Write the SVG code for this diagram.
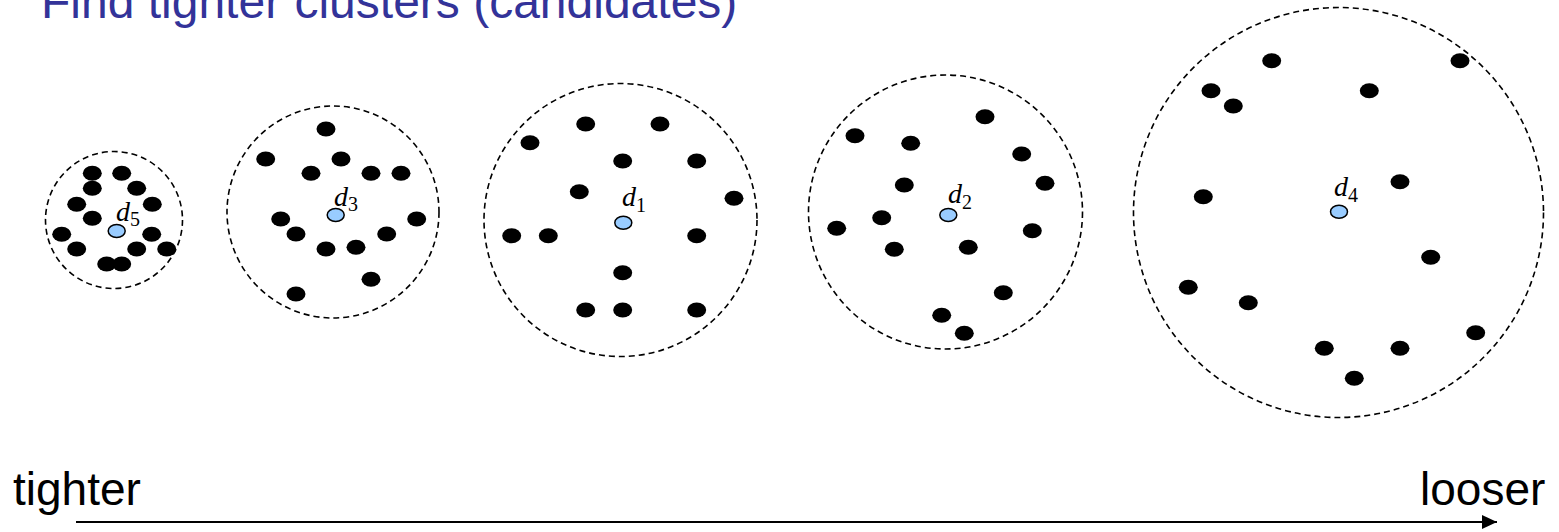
<svg xmlns="http://www.w3.org/2000/svg" width="1559" height="532" viewBox="0 0 1559 532">
<defs>
<style>
.title{font-family:"Liberation Sans",Arial,sans-serif;font-size:48px;fill:#333399}
.axis{font-family:"Liberation Sans",Arial,sans-serif;font-size:46px;fill:#000}
.ring{fill:none;stroke:#000;stroke-width:1.6;stroke-dasharray:6 4}
.pt{fill:#000}
.ctr{fill:#99CCFF;stroke:#000;stroke-width:1.5}
.lbl{font-family:"Liberation Serif","Times New Roman",serif;font-style:italic;font-size:28px;fill:#000}
.sub{font-style:normal;font-size:20px}
</style>
<marker id="arr" viewBox="0 0 15 14" refX="15" refY="7" markerWidth="15" markerHeight="14" markerUnits="userSpaceOnUse" orient="auto">
<path d="M0,0 L15,7 L0,14 Z" fill="#000"/>
</marker>
</defs>
<rect width="1559" height="532" fill="#fff"/>
<text class="title" x="41" y="18">Find tighter clusters (candidates)</text>

<g id="cluster-d5">
<circle class="ring" cx="114" cy="220" r="68.5"/>
<g class="pt">
<ellipse cx="92.3" cy="173.3" rx="9.5" ry="7.5"/>
<ellipse cx="121.7" cy="173.3" rx="9.5" ry="7.5"/>
<ellipse cx="92.3" cy="188.3" rx="9.5" ry="7.5"/>
<ellipse cx="136.7" cy="188.3" rx="9.5" ry="7.5"/>
<ellipse cx="76.7" cy="204.3" rx="9.5" ry="7.5"/>
<ellipse cx="152.3" cy="204.3" rx="9.5" ry="7.5"/>
<ellipse cx="92.3" cy="218.3" rx="9.5" ry="7.5"/>
<ellipse cx="61.7" cy="234.3" rx="9.5" ry="7.5"/>
<ellipse cx="151.7" cy="234.3" rx="9.5" ry="7.5"/>
<ellipse cx="76.7" cy="249" rx="9.5" ry="7.5"/>
<ellipse cx="136.7" cy="249" rx="9.5" ry="7.5"/>
<ellipse cx="166.7" cy="249" rx="9.5" ry="7.5"/>
<ellipse cx="106.7" cy="264" rx="9.5" ry="7.5"/>
<ellipse cx="121.7" cy="264" rx="9.5" ry="7.5"/>
</g>
<ellipse class="ctr" cx="116.7" cy="231" rx="8.5" ry="6.5"/>
<text class="lbl" x="116" y="221">d<tspan class="sub" dy="5">5</tspan></text>
</g>

<g id="cluster-d3">
<circle class="ring" cx="333" cy="212" r="106"/>
<g class="pt">
<ellipse cx="326" cy="129" rx="9.5" ry="7.5"/>
<ellipse cx="265.7" cy="159" rx="9.5" ry="7.5"/>
<ellipse cx="341" cy="159" rx="9.5" ry="7.5"/>
<ellipse cx="311" cy="173.3" rx="9.5" ry="7.5"/>
<ellipse cx="371" cy="173.3" rx="9.5" ry="7.5"/>
<ellipse cx="401" cy="173.3" rx="9.5" ry="7.5"/>
<ellipse cx="280.7" cy="219" rx="9.5" ry="7.5"/>
<ellipse cx="416.7" cy="219" rx="9.5" ry="7.5"/>
<ellipse cx="296" cy="234" rx="9.5" ry="7.5"/>
<ellipse cx="386.7" cy="234" rx="9.5" ry="7.5"/>
<ellipse cx="326" cy="249" rx="9.5" ry="7.5"/>
<ellipse cx="356" cy="247.3" rx="9.5" ry="7.5"/>
<ellipse cx="371" cy="279.3" rx="9.5" ry="7.5"/>
<ellipse cx="296" cy="294" rx="9.5" ry="7.5"/>
</g>
<ellipse class="ctr" cx="335.7" cy="215" rx="8.5" ry="6.5"/>
<text class="lbl" x="334" y="206">d<tspan class="sub" dy="5">3</tspan></text>
</g>

<g id="cluster-d1">
<circle class="ring" cx="620.5" cy="220" r="136.5"/>
<g class="pt">
<ellipse cx="585.7" cy="124" rx="9.5" ry="7.5"/>
<ellipse cx="660" cy="124" rx="9.5" ry="7.5"/>
<ellipse cx="530" cy="142.7" rx="9.5" ry="7.5"/>
<ellipse cx="622.7" cy="161" rx="9.5" ry="7.5"/>
<ellipse cx="696.7" cy="161" rx="9.5" ry="7.5"/>
<ellipse cx="579.3" cy="191.7" rx="9.5" ry="7.5"/>
<ellipse cx="734" cy="198.3" rx="9.5" ry="7.5"/>
<ellipse cx="511.7" cy="235.7" rx="9.5" ry="7.5"/>
<ellipse cx="548.3" cy="235.7" rx="9.5" ry="7.5"/>
<ellipse cx="696.7" cy="235.7" rx="9.5" ry="7.5"/>
<ellipse cx="622.7" cy="272.7" rx="9.5" ry="7.5"/>
<ellipse cx="585.7" cy="310" rx="9.5" ry="7.5"/>
<ellipse cx="622.7" cy="310" rx="9.5" ry="7.5"/>
<ellipse cx="696.7" cy="310" rx="9.5" ry="7.5"/>
</g>
<ellipse class="ctr" cx="623.3" cy="222.7" rx="8.5" ry="6.5"/>
<text class="lbl" x="622" y="206">d<tspan class="sub" dy="6">1</tspan></text>
</g>

<g id="cluster-d2">
<circle class="ring" cx="945.5" cy="212" r="137"/>
<g class="pt">
<ellipse cx="985" cy="116.7" rx="9.5" ry="7.5"/>
<ellipse cx="855" cy="135.7" rx="9.5" ry="7.5"/>
<ellipse cx="910.7" cy="143.3" rx="9.5" ry="7.5"/>
<ellipse cx="1021.7" cy="154" rx="9.5" ry="7.5"/>
<ellipse cx="1045" cy="183.3" rx="9.5" ry="7.5"/>
<ellipse cx="904.3" cy="185" rx="9.5" ry="7.5"/>
<ellipse cx="881.7" cy="217.7" rx="9.5" ry="7.5"/>
<ellipse cx="836.7" cy="228.3" rx="9.5" ry="7.5"/>
<ellipse cx="1032.3" cy="230.7" rx="9.5" ry="7.5"/>
<ellipse cx="894.3" cy="249.3" rx="9.5" ry="7.5"/>
<ellipse cx="968.3" cy="247.3" rx="9.5" ry="7.5"/>
<ellipse cx="1003.3" cy="292.7" rx="9.5" ry="7.5"/>
<ellipse cx="941.7" cy="315.3" rx="9.5" ry="7.5"/>
<ellipse cx="964.3" cy="333.3" rx="9.5" ry="7.5"/>
</g>
<ellipse class="ctr" cx="948.3" cy="215" rx="8.5" ry="6.5"/>
<text class="lbl" x="948" y="203">d<tspan class="sub" dy="6">2</tspan></text>
</g>

<g id="cluster-d4">
<circle class="ring" cx="1338.5" cy="212.5" r="205"/>
<g class="pt">
<ellipse cx="1271.7" cy="60.7" rx="9.5" ry="7.5"/>
<ellipse cx="1460" cy="60.7" rx="9.5" ry="7.5"/>
<ellipse cx="1211" cy="90.7" rx="9.5" ry="7.5"/>
<ellipse cx="1369.3" cy="90.7" rx="9.5" ry="7.5"/>
<ellipse cx="1233.3" cy="106" rx="9.5" ry="7.5"/>
<ellipse cx="1400" cy="181.7" rx="9.5" ry="7.5"/>
<ellipse cx="1203.3" cy="196.7" rx="9.5" ry="7.5"/>
<ellipse cx="1430.7" cy="257.3" rx="9.5" ry="7.5"/>
<ellipse cx="1188.3" cy="287.3" rx="9.5" ry="7.5"/>
<ellipse cx="1248.3" cy="302.7" rx="9.5" ry="7.5"/>
<ellipse cx="1475.7" cy="332.7" rx="9.5" ry="7.5"/>
<ellipse cx="1324.3" cy="348.3" rx="9.5" ry="7.5"/>
<ellipse cx="1400" cy="348.3" rx="9.5" ry="7.5"/>
<ellipse cx="1354.3" cy="378.3" rx="9.5" ry="7.5"/>
</g>
<ellipse class="ctr" cx="1339" cy="211.7" rx="8.5" ry="6.5"/>
<text class="lbl" x="1334" y="196">d<tspan class="sub" dy="6">4</tspan></text>
</g>

<g id="connectors">
<line x1="76" y1="522" x2="1497" y2="522" stroke="#000" stroke-width="2" marker-end="url(#arr)"/>
</g>
<text class="axis" x="13" y="505">tighter</text>
<text class="axis" x="1420" y="505">looser</text>
</svg>
